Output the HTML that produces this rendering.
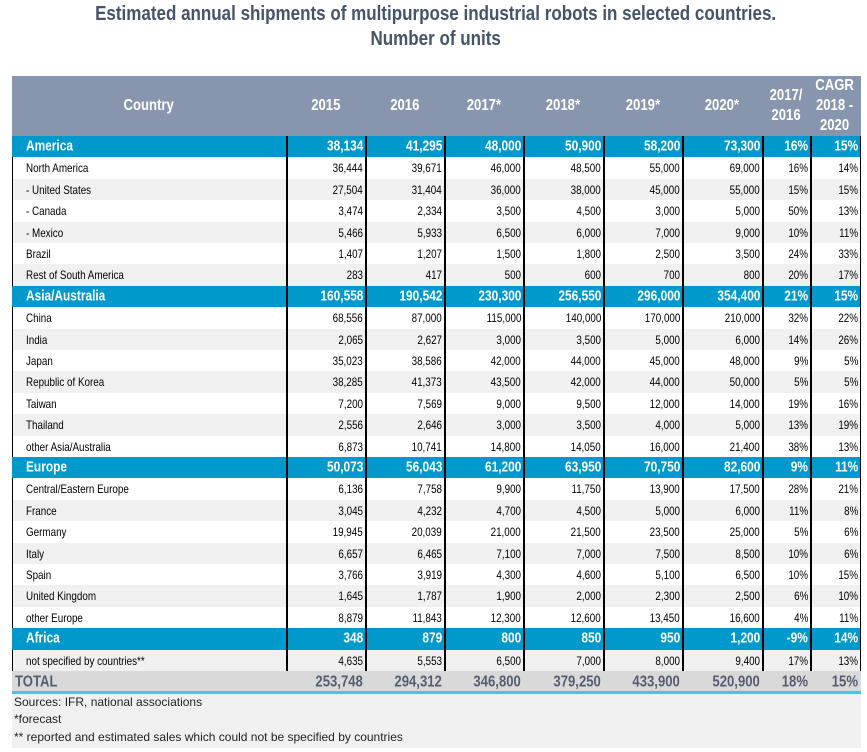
<!DOCTYPE html>
<html><head><meta charset="utf-8">
<style>
*{margin:0;padding:0;box-sizing:border-box}
body{width:867px;height:752px;background:#fff;position:relative;overflow:hidden;font-family:"Liberation Sans",Arial,sans-serif}
.t{position:absolute;left:0;width:872px;text-align:center;font-weight:bold;font-size:20px;line-height:25px;color:#44546a}
.t span{display:inline-block;transform:scaleX(.85);white-space:nowrap}
.hd{position:absolute;left:12px;top:75.5px;width:849px;height:60.5px;background:#8796ae;display:flex;color:#fff;font-weight:bold;font-size:16px;line-height:20px}
.hd>div{display:flex;align-items:center;justify-content:center;text-align:center;height:100%}
.hd span{display:inline-block;transform:scaleX(.82);white-space:nowrap}
.row{position:absolute;left:12px;width:849px;height:21.4px;line-height:21.4px;display:flex}
.row>div{white-space:nowrap;overflow:visible}
.row>div:nth-child(1){width:274px;padding-left:14px;text-align:left}
.row>div:nth-child(2),.row>div:nth-child(3),.row>div:nth-child(4),.row>div:nth-child(6){width:79px}
.row>div:nth-child(5),.row>div:nth-child(7){width:80px}
.row>div:nth-child(8){width:48px}
.row>div:nth-child(9){width:50px}
.hd>div:nth-child(1){width:274px}
.hd>div:nth-child(2),.hd>div:nth-child(3),.hd>div:nth-child(4),.hd>div:nth-child(6){width:79px}
.hd>div:nth-child(5),.hd>div:nth-child(7){width:80px}
.hd>div:nth-child(8){width:48px}
.hd>div:nth-child(9){width:50px}
.row>div:not(:first-child){text-align:right;padding-right:2px}
.row span{display:inline-block;transform-origin:right center}
.row>div:first-child span{transform-origin:left center}
.d{font-size:12px;color:#000}
.d span{transform:translateY(1px) scaleX(.82)}
.g{background:#f0f0f0}
.b{background:#0099cc;color:#fff;font-weight:bold;font-size:14.5px}
.b span{transform:translateY(0.5px) scaleX(.82)}
.tot{background:#d9d9d9;color:#555e70;font-weight:bold;font-size:16px;height:20px;line-height:20px}
.tot span{transform:translateY(1.5px) scaleX(.82)}
.tot>div:first-child{padding-left:2.5px !important}
.vl{position:absolute;background:#000;width:1.5px;top:136px;height:535px}
.ll{position:absolute;background:#000;width:1.2px;left:12px}
.ft{position:absolute;left:12px;top:693.5px;width:849px;height:54.5px;background:#f0f0f0}
.ftx{position:absolute;left:14px;top:693.6px;font-size:12px;line-height:17.8px;color:#222;white-space:nowrap}
.cy{position:absolute;left:12px;top:691px;width:849px;height:2.5px;background:#3fc6f2}
</style></head><body>

<div class="t" style="top:2px"><span>Estimated annual shipments of multipurpose industrial robots in selected countries.</span></div>
<div class="t" style="top:27px"><span>Number of units</span></div>

<div class="hd">
<div><span>Country</span></div>
<div><span>2015</span></div>
<div><span>2016</span></div>
<div><span>2017*</span></div>
<div><span>2018*</span></div>
<div><span>2019*</span></div>
<div><span>2020*</span></div>
<div><span>2017/<br>2016</span></div>
<div><span>CAGR<br>2018 -<br>2020</span></div>
</div>

<div class="row b" style="top:136px"><div><span>America</span></div><div><span>38,134</span></div><div><span>41,295</span></div><div><span>48,000</span></div><div><span>50,900</span></div><div><span>58,200</span></div><div><span>73,300</span></div><div><span>16%</span></div><div><span>15%</span></div></div>
<div class="row d" style="top:157.4px;background:#fff"><div><span>North America</span></div><div><span>36,444</span></div><div><span>39,671</span></div><div><span>46,000</span></div><div><span>48,500</span></div><div><span>55,000</span></div><div><span>69,000</span></div><div><span>16%</span></div><div><span>14%</span></div></div>
<div class="row d g" style="top:178.8px"><div><span>- United States</span></div><div><span>27,504</span></div><div><span>31,404</span></div><div><span>36,000</span></div><div><span>38,000</span></div><div><span>45,000</span></div><div><span>55,000</span></div><div><span>15%</span></div><div><span>15%</span></div></div>
<div class="row d" style="top:200.2px;background:#fff"><div><span>- Canada</span></div><div><span>3,474</span></div><div><span>2,334</span></div><div><span>3,500</span></div><div><span>4,500</span></div><div><span>3,000</span></div><div><span>5,000</span></div><div><span>50%</span></div><div><span>13%</span></div></div>
<div class="row d g" style="top:221.6px"><div><span>- Mexico</span></div><div><span>5,466</span></div><div><span>5,933</span></div><div><span>6,500</span></div><div><span>6,000</span></div><div><span>7,000</span></div><div><span>9,000</span></div><div><span>10%</span></div><div><span>11%</span></div></div>
<div class="row d" style="top:243px;background:#fff"><div><span>Brazil</span></div><div><span>1,407</span></div><div><span>1,207</span></div><div><span>1,500</span></div><div><span>1,800</span></div><div><span>2,500</span></div><div><span>3,500</span></div><div><span>24%</span></div><div><span>33%</span></div></div>
<div class="row d g" style="top:264.4px"><div><span>Rest of South America</span></div><div><span>283</span></div><div><span>417</span></div><div><span>500</span></div><div><span>600</span></div><div><span>700</span></div><div><span>800</span></div><div><span>20%</span></div><div><span>17%</span></div></div>

<div class="row b" style="top:285.8px"><div><span>Asia/Australia</span></div><div><span>160,558</span></div><div><span>190,542</span></div><div><span>230,300</span></div><div><span>256,550</span></div><div><span>296,000</span></div><div><span>354,400</span></div><div><span>21%</span></div><div><span>15%</span></div></div>
<div class="row d" style="top:307.2px;background:#fff"><div><span>China</span></div><div><span>68,556</span></div><div><span>87,000</span></div><div><span>115,000</span></div><div><span>140,000</span></div><div><span>170,000</span></div><div><span>210,000</span></div><div><span>32%</span></div><div><span>22%</span></div></div>
<div class="row d g" style="top:328.6px"><div><span>India</span></div><div><span>2,065</span></div><div><span>2,627</span></div><div><span>3,000</span></div><div><span>3,500</span></div><div><span>5,000</span></div><div><span>6,000</span></div><div><span>14%</span></div><div><span>26%</span></div></div>
<div class="row d" style="top:350px;background:#fff"><div><span>Japan</span></div><div><span>35,023</span></div><div><span>38,586</span></div><div><span>42,000</span></div><div><span>44,000</span></div><div><span>45,000</span></div><div><span>48,000</span></div><div><span>9%</span></div><div><span>5%</span></div></div>
<div class="row d g" style="top:371.4px"><div><span>Republic of Korea</span></div><div><span>38,285</span></div><div><span>41,373</span></div><div><span>43,500</span></div><div><span>42,000</span></div><div><span>44,000</span></div><div><span>50,000</span></div><div><span>5%</span></div><div><span>5%</span></div></div>
<div class="row d" style="top:392.8px;background:#fff"><div><span>Taiwan</span></div><div><span>7,200</span></div><div><span>7,569</span></div><div><span>9,000</span></div><div><span>9,500</span></div><div><span>12,000</span></div><div><span>14,000</span></div><div><span>19%</span></div><div><span>16%</span></div></div>
<div class="row d g" style="top:414.2px"><div><span>Thailand</span></div><div><span>2,556</span></div><div><span>2,646</span></div><div><span>3,000</span></div><div><span>3,500</span></div><div><span>4,000</span></div><div><span>5,000</span></div><div><span>13%</span></div><div><span>19%</span></div></div>
<div class="row d" style="top:435.6px;background:#fff"><div><span>other Asia/Australia</span></div><div><span>6,873</span></div><div><span>10,741</span></div><div><span>14,800</span></div><div><span>14,050</span></div><div><span>16,000</span></div><div><span>21,400</span></div><div><span>38%</span></div><div><span>13%</span></div></div>

<div class="row b" style="top:457px"><div><span>Europe</span></div><div><span>50,073</span></div><div><span>56,043</span></div><div><span>61,200</span></div><div><span>63,950</span></div><div><span>70,750</span></div><div><span>82,600</span></div><div><span>9%</span></div><div><span>11%</span></div></div>
<div class="row d" style="top:478.4px;background:#fff"><div><span>Central/Eastern Europe</span></div><div><span>6,136</span></div><div><span>7,758</span></div><div><span>9,900</span></div><div><span>11,750</span></div><div><span>13,900</span></div><div><span>17,500</span></div><div><span>28%</span></div><div><span>21%</span></div></div>
<div class="row d g" style="top:499.8px"><div><span>France</span></div><div><span>3,045</span></div><div><span>4,232</span></div><div><span>4,700</span></div><div><span>4,500</span></div><div><span>5,000</span></div><div><span>6,000</span></div><div><span>11%</span></div><div><span>8%</span></div></div>
<div class="row d" style="top:521.2px;background:#fff"><div><span>Germany</span></div><div><span>19,945</span></div><div><span>20,039</span></div><div><span>21,000</span></div><div><span>21,500</span></div><div><span>23,500</span></div><div><span>25,000</span></div><div><span>5%</span></div><div><span>6%</span></div></div>
<div class="row d g" style="top:542.6px"><div><span>Italy</span></div><div><span>6,657</span></div><div><span>6,465</span></div><div><span>7,100</span></div><div><span>7,000</span></div><div><span>7,500</span></div><div><span>8,500</span></div><div><span>10%</span></div><div><span>6%</span></div></div>
<div class="row d" style="top:564px;background:#fff"><div><span>Spain</span></div><div><span>3,766</span></div><div><span>3,919</span></div><div><span>4,300</span></div><div><span>4,600</span></div><div><span>5,100</span></div><div><span>6,500</span></div><div><span>10%</span></div><div><span>15%</span></div></div>
<div class="row d g" style="top:585.4px"><div><span>United Kingdom</span></div><div><span>1,645</span></div><div><span>1,787</span></div><div><span>1,900</span></div><div><span>2,000</span></div><div><span>2,300</span></div><div><span>2,500</span></div><div><span>6%</span></div><div><span>10%</span></div></div>
<div class="row d" style="top:606.8px;background:#fff"><div><span>other Europe</span></div><div><span>8,879</span></div><div><span>11,843</span></div><div><span>12,300</span></div><div><span>12,600</span></div><div><span>13,450</span></div><div><span>16,600</span></div><div><span>4%</span></div><div><span>11%</span></div></div>

<div class="row b" style="top:628.2px"><div><span>Africa</span></div><div><span>348</span></div><div><span>879</span></div><div><span>800</span></div><div><span>850</span></div><div><span>950</span></div><div><span>1,200</span></div><div><span>-9%</span></div><div><span>14%</span></div></div>
<div class="row d g" style="top:649.6px"><div><span>not specified by countries**</span></div><div><span>4,635</span></div><div><span>5,553</span></div><div><span>6,500</span></div><div><span>7,000</span></div><div><span>8,000</span></div><div><span>9,400</span></div><div><span>17%</span></div><div><span>13%</span></div></div>

<div class="vl" style="left:286px"></div>
<div class="vl" style="left:365px"></div>
<div class="vl" style="left:444px"></div>
<div class="vl" style="left:523px"></div>
<div class="vl" style="left:603px"></div>
<div class="vl" style="left:682px"></div>
<div class="vl" style="left:762px"></div>
<div class="vl" style="left:810px"></div>
<div class="vl" style="left:859.5px"></div>

<div class="ll" style="top:157.4px;height:128.4px"></div>
<div class="ll" style="top:307.2px;height:149.8px"></div>
<div class="ll" style="top:478.4px;height:149.8px"></div>
<div class="ll" style="top:649.6px;height:21.4px"></div>

<div class="row tot" style="top:671px"><div><span>TOTAL</span></div><div><span>253,748</span></div><div><span>294,312</span></div><div><span>346,800</span></div><div><span>379,250</span></div><div><span>433,900</span></div><div><span>520,900</span></div><div><span>18%</span></div><div><span>15%</span></div></div>
<div class="cy"></div>

<div class="ft"></div>
<div class="ftx">Sources: IFR, national associations<br>*forecast<br>** reported and estimated sales which could not be specified by countries</div>

</body></html>
